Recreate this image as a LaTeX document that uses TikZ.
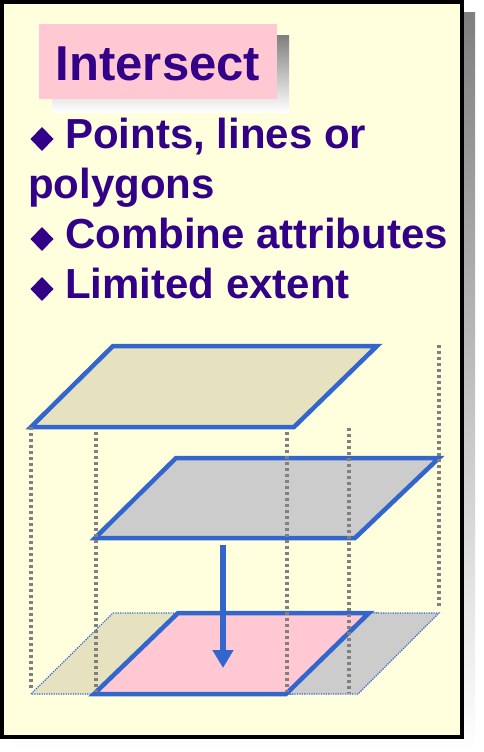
\documentclass[tikz,border=0pt]{standalone}
\usepackage{fontspec}
\setmainfont{Liberation Sans}
\usetikzlibrary{arrows.meta}
\definecolor{paper}{RGB}{255,255,221}
\definecolor{shade}{RGB}{128,128,128}
\definecolor{ink}{RGB}{51,0,136}
\definecolor{rose}{RGB}{255,200,210}
\definecolor{khaki}{RGB}{230,226,192}
\definecolor{silver}{RGB}{204,204,204}
\definecolor{edge}{RGB}{51,102,204}
\begin{document}
\begin{tikzpicture}[x=1pt,y=-1pt,
  layer/.style={draw=edge,line width=4.5pt,line join=miter},
  ghost/.style={draw=edge,line width=1.2pt,dash pattern=on 1.2pt off 1.2pt},
  guide/.style={draw=shade,line width=4pt,dash pattern=on 3.2pt off 2.8pt},
  item/.style={anchor=base west,inner sep=0pt,text=ink,font=\fontsize{42}{50}\selectfont\bfseries},
  flow/.style={draw=edge,line width=5.5pt,-{Triangle[width=20pt,length=18pt]}},
]
\useasboundingbox (0,0) rectangle (484,752);

% slide card with drop shadow
\fill[shade] (13,13) rectangle (475,751);
\draw[line width=4pt,fill=paper] (2,2) rectangle (462,737);

% title with drop shadow
\fill[shade] (52,36) rectangle (289,112);
\node[fill=rose,minimum width=238pt,minimum height=75pt,inner sep=0pt,
      text height=39pt,text depth=0pt,text=ink,
      font=\fontsize{49}{59}\selectfont\bfseries] (title) at (158,61.5) {Intersect};

% bullet marks
\foreach \yy in {139,239,289}
  \fill[ink] (30.5,\yy) -- (42,\yy-12) -- (53.5,\yy) -- (42,\yy+12) -- cycle;

% bullet list
\node[item] (t1) at (65,148) {Points, lines or};
\node[item] (t1b) at (28,198) {polygons};
\node[item] (t2) at (65,248) {Combine attributes};
\node[item] (t3) at (65,298) {Limited extent};

% input layers
\coordinate (a1) at (31,427);  \coordinate (a2) at (113,346);
\coordinate (a3) at (377,346); \coordinate (a4) at (294,427);
\coordinate (m1) at (95,538);  \coordinate (m2) at (176,458);
\coordinate (m3) at (439,458); \coordinate (m4) at (355,538);
\path[layer,fill=khaki] (a1) -- (a2) -- (a3) -- (a4) -- cycle;
\path[layer,fill=silver] (m1) -- (m2) -- (m3) -- (m4) -- cycle;

% result layer: outlines of both inputs and their overlap
\path[ghost,fill=khaki] (31,694) -- (113,613) -- (377,613) -- (294,694) -- cycle;
\path[ghost,fill=silver] (95,694) -- (176,613) -- (439,613) -- (358,694) -- cycle;
\path[layer,fill=rose] (94,694) -- (178,613) -- (369,613) -- (286,694) -- cycle;

% projection guides
\coordinate (g1s) at (31,427);  \coordinate (g1e) at (31,690);
\coordinate (g2s) at (96,432);  \coordinate (g2e) at (96,692);
\coordinate (g3s) at (287,432); \coordinate (g3e) at (287,692);
\coordinate (g4s) at (349,428); \coordinate (g4e) at (349,693);
\coordinate (g5s) at (439,345); \coordinate (g5e) at (439,608);
\draw[guide] (g1s) -- (g1e);
\draw[guide] (g2s) -- (g2e);
\draw[guide] (g3s) -- (g3e);
\draw[guide] (g4s) -- (g4e);
\draw[guide] (g5s) -- (g5e);

% overlay arrow
\coordinate (fromlayer) at (223,545);
\coordinate (tolayer) at (223,668);
\draw[flow] (fromlayer) -- (tolayer);
\end{tikzpicture}
\end{document}
